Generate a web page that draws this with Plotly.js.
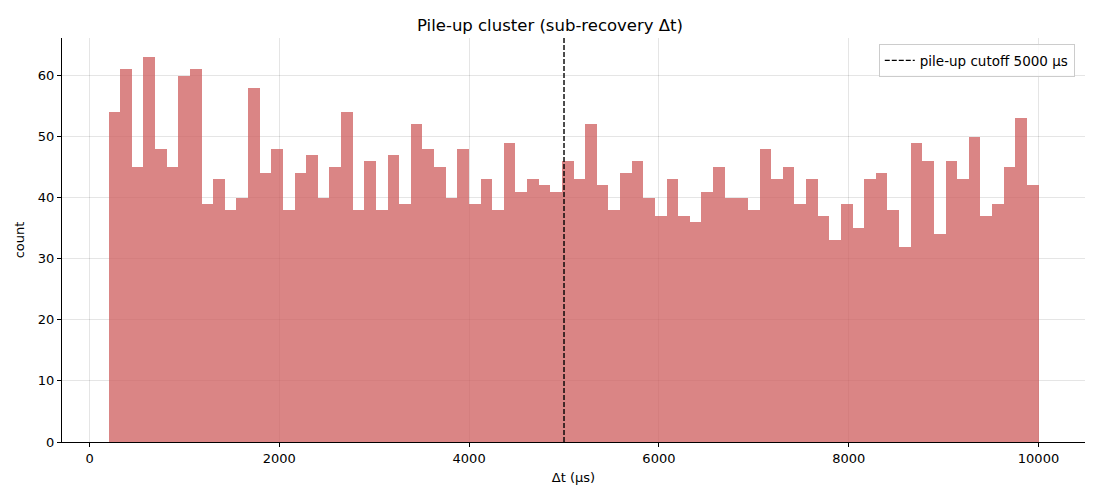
<!DOCTYPE html>
<html>
<head>
<meta charset="utf-8">
<script src="https://cdn.plot.ly/plotly-3.0.1.min.js"></script>
<style>body{margin:0;background:#fff;}#chart{width:1100px;height:500px;}</style>
</head>
<body>
<div id="chart"></div>
<script>
// Histogram bins: 80 bins from 200 to 10000 µs
var binStart = 200;
var binWidth = 122.5;
var counts = [
  54,61,45,63,48,45,60,61,39,43,
  38,40,58,44,48,38,44,47,40,45,
  54,38,46,38,47,39,52,48,45,40,
  48,39,43,38,49,41,43,42,41,46,
  43,52,42,38,44,46,40,37,43,37,
  36,41,45,40,40,38,48,43,45,39,
  43,37,33,39,35,43,44,38,32,49,
  46,34,46,43,50,37,39,45,53,42
];
var cutoff = 5000;
var cutoffLabel = "pile-up cutoff 5000 μs";
var xTicks = [0, 2000, 4000, 6000, 8000, 10000];
var yTicks = [0, 10, 20, 30, 40, 50, 60];

var centers = counts.map(function(_, i){ return binStart + binWidth * (i + 0.5); });
var yMax = Math.max.apply(null, counts) * 1.05;

var traces = [
  {
    type: 'bar',
    x: centers,
    y: counts,
    width: binWidth,
    marker: {color: 'rgba(205,92,92,0.75)', line: {width: 0}},
    showlegend: false,
    hoverinfo: 'x+y'
  },
  {
    type: 'scatter',
    mode: 'lines',
    x: [cutoff, cutoff],
    y: [0, yMax],
    line: {color: 'black', width: 1.4, dash: '5px,2px'},
    name: cutoffLabel
  }
];

var layout = {
  width: 1100, height: 500,
  margin: {l: 62, r: 15, t: 38, b: 58},
  paper_bgcolor: '#fff', plot_bgcolor: '#fff',
  font: {family: 'DejaVu Sans', size: 13, color: '#000'},
  title: {text: 'Pile-up cluster (sub-recovery Δt)', font: {size: 16.5, family: 'DejaVu Sans'}, x: 0.5, xanchor: 'center', y: 0.95, yanchor: 'middle'},
  bargap: 0,
  xaxis: {
    range: [-290, 10490],
    tickvals: xTicks, ticktext: xTicks.map(String),
    showgrid: true, gridcolor: 'rgba(0,0,0,0.1)', gridwidth: 1,
    zeroline: false, showline: true, linecolor: '#000', linewidth: 1,
    ticks: 'outside', ticklen: 4, tickcolor: '#000',
    tickfont: {size: 13},
    title: {text: 'Δt (μs)', font: {size: 13}, standoff: 8}
  },
  yaxis: {
    range: [0, yMax],
    tickvals: yTicks, ticktext: yTicks.map(String),
    showgrid: true, gridcolor: 'rgba(0,0,0,0.1)', gridwidth: 1,
    zeroline: false, showline: true, linecolor: '#000', linewidth: 1,
    ticks: 'outside', ticklen: 4, tickcolor: '#000',
    tickfont: {size: 13},
    title: {text: 'count', font: {size: 13}, standoff: 10}
  },
  legend: {
    x: 0.99, y: 0.985, xanchor: 'right', yanchor: 'top',
    bgcolor: 'rgba(255,255,255,0.8)', bordercolor: '#ccc', borderwidth: 1,
    font: {size: 13.5}
  }
};

Plotly.newPlot('chart', traces, layout, {displayModeBar: false, staticPlot: true});
</script>
</body>
</html>
